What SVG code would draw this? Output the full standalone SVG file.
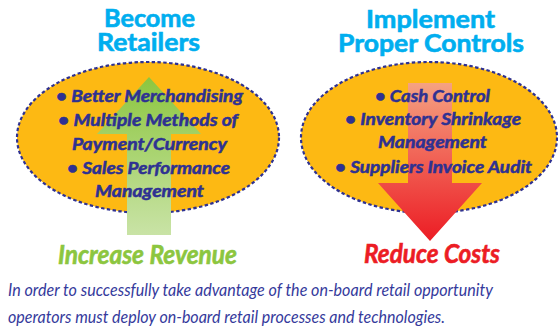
<svg xmlns="http://www.w3.org/2000/svg" width="558" height="329" viewBox="0 0 558 329">
  <defs>
    <linearGradient id="gradUp" x1="0" y1="0" x2="0" y2="1">
      <stop offset="0" stop-color="#8cc63f"/>
      <stop offset="1" stop-color="#c9e3a6"/>
    </linearGradient>
    <linearGradient id="gradDown" x1="0" y1="0" x2="0" y2="1">
      <stop offset="0" stop-color="#f5a282"/>
      <stop offset="1" stop-color="#ec1c24"/>
    </linearGradient>
    <style>
      .oval { fill: #fdb913; }
      .rim { fill: none; stroke: #2e3192; stroke-width: 2.2; stroke-dasharray: 3.4 2.4; }
      .title { font-family: Lato, "Open Sans", "Liberation Sans", sans-serif; font-weight: 700; font-size: 24px; fill: #00aeef; stroke: #00aeef; stroke-width: 0.6; text-anchor: middle; }
      .item { font-family: Lato, "Liberation Sans", sans-serif; font-weight: 700; font-style: italic; font-size: 17px; fill: #2e3192; stroke: #2e3192; stroke-width: 0.5; text-anchor: middle; }
      .result { font-family: Lato, "Liberation Sans", sans-serif; font-weight: 700; font-style: italic; font-size: 26px; stroke-width: 0.6; text-anchor: middle; }
      .note { font-family: Lato, "Liberation Sans", sans-serif; font-style: italic; font-size: 17px; fill: #353a9c; }
    </style>
  </defs>

  <!-- Revenue side -->
  <g id="become-retailers">
    <text class="title" x="149.5" y="27" textLength="91" lengthAdjust="spacingAndGlyphs">Become</text>
    <text class="title" x="148.5" y="51" textLength="103" lengthAdjust="spacingAndGlyphs">Retailers</text>
    <ellipse class="oval" cx="148" cy="137.5" rx="131" ry="75.5"/>
    <ellipse class="rim" cx="148" cy="137.5" rx="131" ry="75.5"/>
  </g>

  <!-- Cost side -->
  <g id="implement-controls">
    <text class="title" x="430.5" y="28" textLength="129" lengthAdjust="spacingAndGlyphs">Implement</text>
    <text class="title" x="431" y="52" textLength="186" lengthAdjust="spacingAndGlyphs">Proper Controls</text>
    <ellipse class="oval" cx="429" cy="137.5" rx="128" ry="75.5"/>
    <ellipse class="rim" cx="429" cy="137.5" rx="128" ry="75.5"/>
  </g>

  <!-- Direction arrows -->
  <g id="connectors">
    <polygon id="arrow-up" fill="url(#gradUp)" points="149,77 201,134 171,134 171,235 127,235 127,134 97,134"/>
    <polygon id="arrow-down" fill="url(#gradDown)" points="408,83 452,83 452,183 482,183 430,241 378,183 408,183"/>
  </g>

  <g id="revenue-items">
    <text class="item" x="149.5" y="102" textLength="187" lengthAdjust="spacingAndGlyphs">• Better Merchandising</text>
    <text class="item" x="148" y="126" textLength="180" lengthAdjust="spacingAndGlyphs">• Multiple Methods of</text>
    <text class="item" x="149.5" y="150" textLength="155" lengthAdjust="spacingAndGlyphs">Payment/Currency</text>
    <text class="item" x="148.5" y="174" textLength="163" lengthAdjust="spacingAndGlyphs">• Sales Performance</text>
    <text class="item" x="149.5" y="197" textLength="109" lengthAdjust="spacingAndGlyphs">Management</text>
  </g>

  <g id="cost-items">
    <text class="item" x="432.5" y="102" textLength="115" lengthAdjust="spacingAndGlyphs">• Cash Control</text>
    <text class="item" x="433" y="125" textLength="176" lengthAdjust="spacingAndGlyphs">• Inventory Shrinkage</text>
    <text class="item" x="432.5" y="148" textLength="109" lengthAdjust="spacingAndGlyphs">Management</text>
    <text class="item" x="433.5" y="173" textLength="197" lengthAdjust="spacingAndGlyphs">• Suppliers Invoice Audit</text>
  </g>

  <g id="increase-revenue">
    <text class="result" x="147.5" y="264" fill="#8cc63f" stroke="#8cc63f" textLength="179" lengthAdjust="spacingAndGlyphs">Increase Revenue</text>
  </g>

  <g id="reduce-costs">
    <text class="result" x="432" y="263" fill="#ec1c24" stroke="#ec1c24" textLength="136" lengthAdjust="spacingAndGlyphs">Reduce Costs</text>
  </g>

  <!-- Closing statement -->
  <g id="statement">
    <text class="note" x="8" y="296" textLength="485" lengthAdjust="spacingAndGlyphs">In order to successfully take advantage of the on-board retail opportunity</text>
    <text class="note" x="8" y="323" textLength="437" lengthAdjust="spacingAndGlyphs">operators must deploy on-board retail processes and technologies.</text>
  </g>
</svg>
